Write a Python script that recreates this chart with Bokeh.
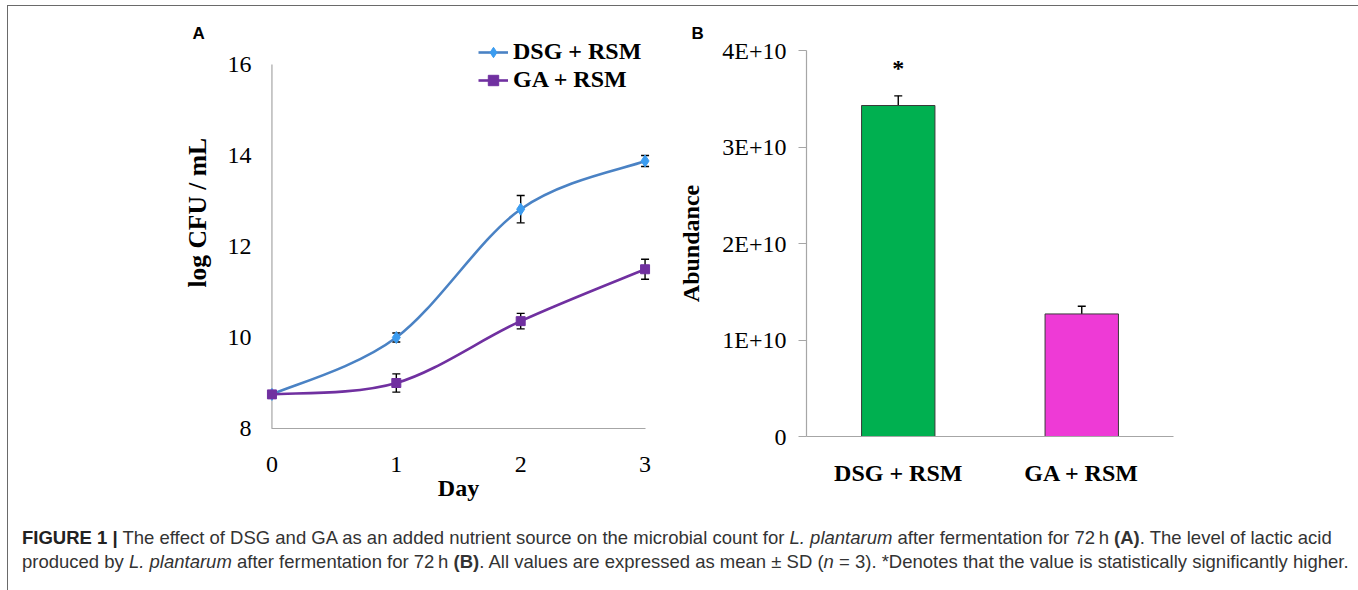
import numpy as np
from bokeh.plotting import figure
from bokeh.models import (Range1d, FactorRange, ColumnDataSource, Whisker, TeeHead,
                          Legend, LegendItem, Title, Div)
from bokeh.layouts import row, column
from bokeh.embed import file_html
from bokeh.resources import INLINE
from bokeh.core.properties import value

# ---------------- data ----------------
days = [0, 1, 2, 3]
dsg_mean = [8.75, 10.0, 12.82, 13.88]
dsg_sd = [0.05, 0.1, 0.3, 0.12]
ga_mean = [8.75, 9.0, 10.36, 11.5]
ga_sd = [0.05, 0.2, 0.17, 0.22]
series_names = ["DSG + RSM", "GA + RSM"]
y_ticks_a = [8, 10, 12, 14, 16]

groups = ["DSG + RSM", "GA + RSM"]
abundance = [3.43e10, 1.27e10]
abundance_sd = [0.1e10, 0.08e10]
significance = ["*", ""]
y_ticks_b = [0, 1e10, 2e10, 3e10, 4e10]
y_tick_labels_b = ["0", "1E+10", "2E+10", "3E+10", "4E+10"]

SERIF = "Liberation Serif"
SANS = "Liberation Sans"
AXIS_GRAY = "#a6a6a6"
DSG_LINE = "#4a82c4"
DSG_MARK = "#3b9cf0"
GA_LINE = "#7030a0"
GA_MARK = "#7030a0"


def smooth_segments(xs, ys):
    """Bezier control points (Catmull-Rom style) joining consecutive data points."""
    n = len(xs)
    d = dict(x0=[], y0=[], x1=[], y1=[], cx0=[], cy0=[], cx1=[], cy1=[])
    for i in range(n - 1):
        pm = max(i - 1, 0)
        pp = min(i + 2, n - 1)
        d["x0"].append(xs[i]); d["y0"].append(ys[i])
        d["x1"].append(xs[i + 1]); d["y1"].append(ys[i + 1])
        d["cx0"].append(xs[i] + (xs[i + 1] - xs[pm]) / 6.0)
        d["cy0"].append(ys[i] + (ys[i + 1] - ys[pm]) / 6.0)
        d["cx1"].append(xs[i + 1] - (xs[pp] - xs[i]) / 6.0)
        d["cy1"].append(ys[i + 1] - (ys[pp] - ys[i]) / 6.0)
    return d


# ---------------- panel A ----------------
pad = 0.1
pA = figure(width=658, height=509, output_backend="svg", toolbar_location=None, title=None,
            x_range=Range1d(days[0] - pad, days[-1] + pad), y_range=Range1d(8, 16.55),
            min_border_left=251, min_border_right=9, min_border_top=33, min_border_bottom=87)
pA.frame_align = False
pA.outline_line_color = None
pA.grid.visible = False
pA.background_fill_color = "white"
pA.border_fill_color = "white"

# y axis rule drawn at day 0
pA.segment(x0=[days[0]], y0=[y_ticks_a[0]], x1=[days[0]], y1=[y_ticks_a[-1]],
           line_color=AXIS_GRAY, line_width=1.2)

legend_items = []
for name, mean, sd, lc, mc, mk, ms in [(series_names[0], dsg_mean, dsg_sd, DSG_LINE, DSG_MARK, "diamond", 12),
                                       (series_names[1], ga_mean, ga_sd, GA_LINE, GA_MARK, "square", 9)]:
    curve = pA.bezier(x0="x0", y0="y0", x1="x1", y1="y1", cx0="cx0", cy0="cy0", cx1="cx1", cy1="cy1",
                      source=ColumnDataSource(smooth_segments(days, mean)),
                      line_color=lc, line_width=2.6)
    src = ColumnDataSource(dict(x=days, y=mean,
                                upper=[m + s for m, s in zip(mean, sd)],
                                lower=[m - s for m, s in zip(mean, sd)]))
    pts = pA.scatter("x", "y", source=src, marker=mk, size=ms, fill_color=mc, line_color=mc)
    pA.add_layout(Whisker(source=src, base="x", upper="upper", lower="lower",
                          line_color="black", line_width=1.4,
                          upper_head=TeeHead(size=8, line_color="black", line_width=1.4),
                          lower_head=TeeHead(size=8, line_color="black", line_width=1.4)))
    legend_items.append(LegendItem(label=value(name), renderers=[curve, pts]))

legend = Legend(items=legend_items,
                location=(219, 335), padding=0, margin=0, spacing=1,
                glyph_width=30, glyph_height=26, label_height=26, label_standoff=5,
                border_line_color=None, background_fill_alpha=0,
                label_text_font=SERIF, label_text_font_style="bold",
                label_text_font_size="24px", label_text_color="black")
pA.add_layout(legend)

xa = pA.xaxis[0]
ya = pA.yaxis[0]
xa.bounds = (days[0], days[-1])
xa.ticker = days
ya.ticker = y_ticks_a
for ax in (xa, ya):
    ax.axis_line_color = AXIS_GRAY
    ax.axis_line_width = 1.2
    ax.major_tick_out = 0
    ax.major_tick_in = 0
    ax.minor_tick_line_color = None
    ax.major_tick_line_color = None
    ax.major_label_text_font = SERIF
    ax.major_label_text_font_size = "24px"
    ax.major_label_text_color = "black"
ya.axis_line_color = None
ya.major_label_standoff = 8
xa.major_label_standoff = 28
xa.axis_label = "Day"
xa.axis_label_text_font = SERIF
xa.axis_label_text_font_style = "bold"
xa.axis_label_text_font_size = "24px"
xa.axis_label_text_color = "black"
xa.axis_label_standoff = 0

pA.add_layout(Title(text="log CFU / mL", align="left", offset=141, vertical_align="bottom",
                    standoff=26, text_font=SERIF, text_font_style="bold",
                    text_font_size="25.5px", text_color="black"), "left")
pA.add_layout(Title(text="A", align="left", offset=-67, vertical_align="bottom", standoff=-6,
                    text_font=SANS, text_font_style="bold", text_font_size="17px",
                    text_color="black"), "above")

# ---------------- panel B ----------------
pB = figure(width=683, height=509, output_backend="svg", toolbar_location=None, title=None,
            x_range=FactorRange(*groups), y_range=Range1d(0, 4e10),
            min_border_left=140, min_border_right=176, min_border_top=44, min_border_bottom=79)
pB.frame_align = False
pB.outline_line_color = None
pB.grid.visible = False
pB.background_fill_color = "white"
pB.border_fill_color = "white"

bsrc = ColumnDataSource(dict(x=groups, top=abundance,
                             upper=[m + s for m, s in zip(abundance, abundance_sd)],
                             lower=[m - s for m, s in zip(abundance, abundance_sd)],
                             color=["#00b050", "#ee3ad6"], sig=significance))
pB.vbar(x="x", top="top", width=0.4, source=bsrc, fill_color="color",
        line_color="#3a3a3a", line_width=1)
pB.add_layout(Whisker(source=bsrc, base="x", upper="upper", lower="lower",
                      line_color="black", line_width=1.4,
                      upper_head=TeeHead(size=8, line_color="black", line_width=1.4),
                      lower_head=TeeHead(size=8, line_color="black", line_width=1.4)))
pB.text(x="x", y="upper", text="sig", source=bsrc, y_offset=-28,
        text_align="center", text_baseline="middle", text_font=value(SERIF),
        text_font_style="bold", text_font_size="24px", text_color="black")

xb = pB.xaxis[0]
yb = pB.yaxis[0]
yb.ticker = y_ticks_b
yb.major_label_overrides = {t: l for t, l in zip(y_ticks_b, y_tick_labels_b)}
for ax in (xb, yb):
    ax.axis_line_color = AXIS_GRAY
    ax.axis_line_width = 1.2
    ax.minor_tick_line_color = None
    ax.major_label_text_font = SERIF
    ax.major_label_text_font_size = "24px"
    ax.major_label_text_color = "black"
xb.major_tick_out = 0
xb.major_tick_in = 0
xb.major_tick_line_color = None
xb.major_label_text_font_style = "bold"
xb.major_label_standoff = 23
xb.major_label_orientation = "horizontal"
yb.major_tick_out = 8
yb.major_tick_in = 0
yb.major_tick_line_color = AXIS_GRAY
yb.major_label_standoff = 12
yb.axis_label = "Abundance"
yb.axis_label_text_font = SERIF
yb.axis_label_text_font_style = "bold"
yb.axis_label_text_font_size = "24px"
yb.axis_label_text_color = "black"
yb.axis_label_standoff = 15

pB.add_layout(Title(text="B", align="left", offset=-115, vertical_align="bottom", standoff=16,
                    text_font=SANS, text_font_style="bold", text_font_size="17px",
                    text_color="black"), "above")

# ---------------- caption ----------------
caption = Div(
    text=('<b style="color:#222">FIGURE 1 |</b> The effect of DSG and GA as an added nutrient source on the '
          'microbial count for <i>L. plantarum</i> after fermentation for 72\u2009h <b>(A)</b>. The level of lactic acid<br>'
          'produced by <i>L. plantarum</i> after fermentation for 72\u2009h <b>(B)</b>. All values are expressed as '
          'mean \u00b1 SD (<i>n</i> = 3). *Denotes that the value is statistically significantly higher.'),
    width=1341, height=70,
    styles={"font-family": SANS, "font-size": "18.5px", "color": "#333",
            "line-height": "24px", "padding-left": "9px", "padding-top": "6px",
            "white-space": "nowrap"})

layout = column(row(pA, pB), caption,
                styles={"border-top": "1px solid #6a6a6a", "border-left": "1px solid #6a6a6a",
                        "border-right": "1px solid #6a6a6a", "margin": "5px 0px 0px 7px"})

open("out.html", "w").write(file_html(layout, INLINE))
